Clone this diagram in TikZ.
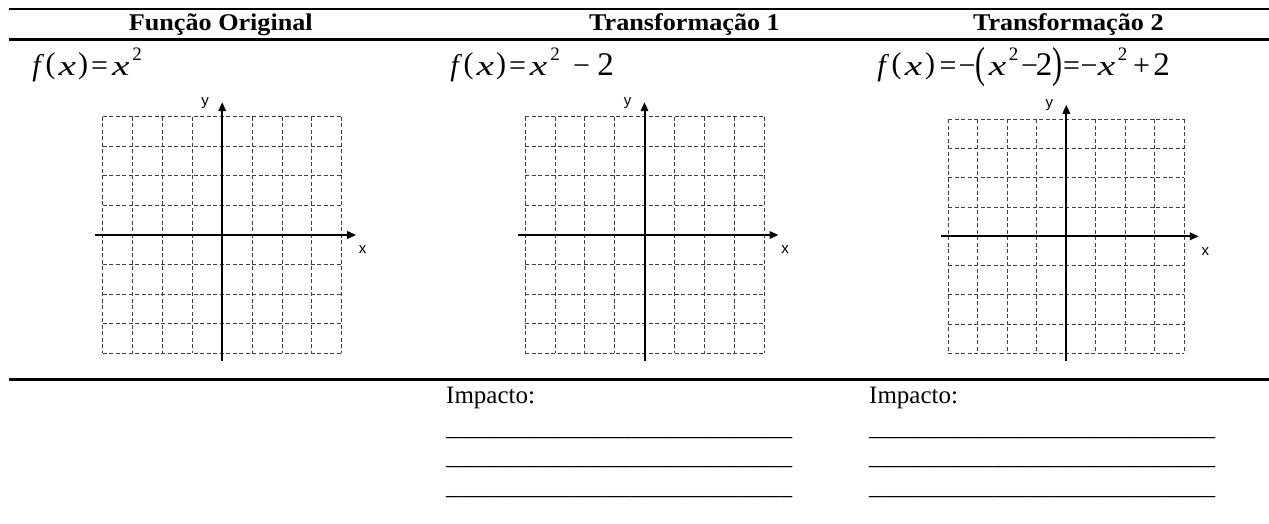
\documentclass[tikz,border=0pt]{standalone}
\usepackage{fontspec}
\usepackage{graphicx}
\setmainfont{Liberation Serif}
\newfontfamily\hdfont[FakeStretch=1.09]{Liberation Serif}
\newfontfamily\axfont{Liberation Sans}
\usetikzlibrary{arrows.meta}
% formula tokens placed at absolute horizontal centres
\newcommand\at[2]{\rlap{\hspace*{#1pt}\makebox[0pt]{#2}}}
\newcommand\fx{\textit{f}}
\newcommand\xx{\scalebox{1.4}[1]{\fontsize{28pt}{30pt}\selectfont\textit{x}}}
\newcommand\lp{\raisebox{2pt}{(}}
\newcommand\rp{\raisebox{2pt}{)}}
\newcommand\blp{\raisebox{-2pt}{\scalebox{1}[1.45]{(}}}
\newcommand\brp{\raisebox{-2pt}{\scalebox{1}[1.45]{)}}}
\newcommand\sq{\raisebox{15.3pt}{\fontsize{19pt}{19pt}\selectfont 2}}
\newcommand\dg{{\fontsize{33pt}{33pt}\selectfont 2}}
\newcommand\blankline{\resizebox*{346pt}{\totalheight}{\_\_\_\_\_\_\_\_\_\_\_\_\_\_\_\_\_\_\_\_\_\_\_\_\_\_\_\_}}
\tikzset{
  hdr/.style={font=\hdfont\bfseries\fontsize{24pt}{26pt}\selectfont, inner sep=0pt, anchor=base},
  frm/.style={font=\fontsize{30pt}{32pt}\selectfont, inner sep=0pt, anchor=base west},
  txt/.style={font=\fontsize{25pt}{27pt}\selectfont, inner sep=0pt, anchor=base west},
  rulel/.style={line width=2.3pt},
  gridline/.style={draw=black!75, line width=0.75pt, dash pattern=on 4pt off 2.5pt},
  axisl/.style={line width=2pt, -{Triangle[length=9pt,width=7.5pt]}},
  axlbl/.style={font=\axfont\fontsize{15pt}{15pt}\selectfont, inner sep=0pt},
}
\newcommand\plotgrid[5]{%
  \foreach \i in {0,...,8}{
    \draw[gridline] ({#2+\i*(#4-#2)/8},#3) -- ({#2+\i*(#4-#2)/8},#5);
    \draw[gridline] (#2,{#3+\i*(#5-#3)/8}) -- (#4,{#3+\i*(#5-#3)/8});
  }
  \coordinate (#1xl) at ({#2-7.5},{(#3+#5)/2});
  \coordinate (#1xr) at ({#4+14.5},{(#3+#5)/2});
  \coordinate (#1yb) at ({(#2+#4)/2},{#5+8});
  \coordinate (#1yt) at ({(#2+#4)/2},{#3-14.5});
  \draw[axisl] (#1xl) -- (#1xr);
  \draw[axisl] (#1yb) -- (#1yt);
  \node[axlbl] (#1lx) at ({#4+21},{(#3+#5)/2+15}) {x};
  \node[axlbl] (#1ly) at ({(#2+#4)/2-17},{#3-14}) {y};
}
\begin{document}
\begin{tikzpicture}[x=1pt,y=-1pt]
\useasboundingbox (0,0) rectangle (1269,524);
% rules
\coordinate (r1a) at (9,9);    \coordinate (r1b) at (1269,9);
\coordinate (r2a) at (9,39.5); \coordinate (r2b) at (1269,39.5);
\coordinate (r3a) at (9,379.5);\coordinate (r3b) at (1269,379.5);
\draw[rulel] (r1a) -- (r1b);
\draw[rulel] (r2a) -- (r2b);
\draw[rulel] (r3a) -- (r3b);
% headers
\node[hdr] (h1) at (220.8,31) {Função Original};
\node[hdr] (h2) at (684.5,31) {Transformação 1};
\node[hdr] (h3) at (1068.3,31) {Transformação 2};
% formulas
\node[frm] (f1) at (0,75.5) {\at{37.5}{\fx}\at{50}{\lp}\at{66.7}{\xx}\at{82.5}{\rp}\at{99}{=}\at{120}{\xx}\at{136.5}{\sq}};
\node[frm] (f2) at (0,75.5) {\at{455.5}{\fx}\at{468}{\lp}\at{484.7}{\xx}\at{500.5}{\rp}\at{517}{=}\at{538}{\xx}\at{554.5}{\sq}\at{581}{−}\at{605}{\dg}};
\node[frm] (f3) at (0,75.5) {\at{882.5}{\fx}\at{896}{\lp}\at{913}{\xx}\at{929.5}{\rp}\at{947.5}{=}\at{966.5}{−}\at{980}{\blp}\at{997}{\xx}\at{1013}{\sq}\at{1029}{−}\at{1043.5}{\dg}\at{1056.5}{\brp}\at{1071}{=}\at{1088.5}{−}\at{1106}{\xx}\at{1122}{\sq}\at{1141}{+}\at{1161}{\dg}};
% grids
\plotgrid{g1}{102.7}{116.7}{341.7}{353.3}
\plotgrid{g2}{525}{116.7}{764}{353.3}
\plotgrid{g3}{948.3}{119.3}{1184.3}{353.3}
% impact
\node[txt] (i2) at (446,403) {Impacto:};
\node[txt] (i3) at (869,403) {Impacto:};
\foreach \yy/\k in {435.5/a,464.5/b,494.5/c}{
  \node[txt] (u2\k) at (446,\yy) {\blankline};
  \node[txt] (u3\k) at (869,\yy) {\blankline};
}
\end{tikzpicture}
\end{document}
